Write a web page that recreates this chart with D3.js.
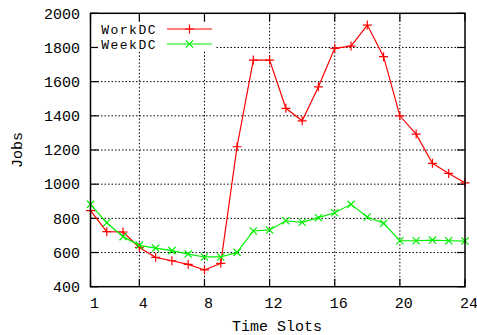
<!DOCTYPE html>
<html><head><meta charset="utf-8">
<script src="https://cdn.jsdelivr.net/npm/d3@7"></script>
<style>body{margin:0;background:#fff}svg{display:block}</style>
</head><body><svg id="c" width="477" height="335"></svg>
<script>
const slots = d3.range(1, 25);
const workDC = [845,722,720,630,572,552,531,498,537,1219,1726,1726,1444,1371,1570,1795,1808,1931,1746,1400,1293,1122,1063,1008];
const weekDC = [882,774,693,642,626,611,591,574,574,601,726,732,786,777,804,833,882,808,771,669,669,673,669,667];
const xTicks = [1,4,8,12,16,20,24];
const yTicks = [400,600,800,1000,1200,1400,1600,1800,2000];
const seriesNames = ["WorkDC","WeekDC"];
const colors = ["#ff0000","#00f000"];

const svg = d3.select("#c");
const L=90.5, R=465, T=13.3, B=286.7;
const x = d3.scaleLinear().domain([1,24]).range([L,R]);
const y = d3.scaleLinear().domain([400,2000]).range([B,T]);
const font = "'Liberation Mono', 'DejaVu Sans Mono', monospace";

// grid
const g = svg.append("g");
g.selectAll(".gx").data([4,8,12,16,20]).join("line")
  .attr("x1",d=>x(d)).attr("x2",d=>x(d)).attr("y1",T).attr("y2",B)
  .attr("stroke","#000").attr("stroke-width",1).attr("stroke-dasharray","1.5,2");
g.selectAll(".gy").data(yTicks.slice(1,-1)).join("line")
  .attr("x1",L).attr("x2",R).attr("y1",d=>y(d)).attr("y2",d=>y(d))
  .attr("stroke","#000").attr("stroke-width",1).attr("stroke-dasharray","1.5,2");

// ticks inward
const tl=8;
yTicks.forEach(v=>{
  g.append("line").attr("x1",L).attr("x2",L+tl).attr("y1",y(v)).attr("y2",y(v)).attr("stroke","#000").attr("stroke-width",1.2);
  g.append("line").attr("x1",R).attr("x2",R-tl).attr("y1",y(v)).attr("y2",y(v)).attr("stroke","#000").attr("stroke-width",1.2);
});
xTicks.forEach(v=>{
  g.append("line").attr("x1",x(v)).attr("x2",x(v)).attr("y1",B).attr("y2",B-tl).attr("stroke","#000").attr("stroke-width",1.2);
  g.append("line").attr("x1",x(v)).attr("x2",x(v)).attr("y1",T).attr("y2",T+tl).attr("stroke","#000").attr("stroke-width",1.2);
});

// tick labels
svg.selectAll(".yl").data(yTicks).join("text")
  .attr("x",80).attr("y",d=>y(d)).attr("dy","0.35em").attr("text-anchor","end")
  .style("font-family",font).style("font-size","15px").attr("fill","#000").text(d=>d);
svg.selectAll(".xl").data(xTicks).join("text")
  .attr("x",d=>x(d)+4).attr("y",308).attr("text-anchor","middle")
  .style("font-family",font).style("font-size","15px").attr("fill","#000").text(d=>d);

svg.append("text").attr("x",277).attr("y",331).attr("text-anchor","middle")
  .style("font-family",font).style("font-size","15px").text("Time Slots");
svg.append("text").attr("transform","translate(22,150) rotate(-90)").attr("text-anchor","middle")
  .style("font-family",font).style("font-size","15px").text("Jobs");

// series
const data = [workDC, weekDC];
const line = d3.line().x((d,i)=>x(slots[i])).y(d=>y(d));
const ms = 4.5;
function plus(sel,c){ sel.append("path").attr("d",`M${-ms},0H${ms}M0,${-ms}V${ms}`).attr("stroke",c).attr("stroke-width",1.2).attr("fill","none"); }
function cross(sel,c){ const m=ms*0.8; sel.append("path").attr("d",`M${-m},${-m}L${m},${m}M${-m},${m}L${m},${-m}`).attr("stroke",c).attr("stroke-width",1.2).attr("fill","none"); }
data.forEach((s,k)=>{
  svg.append("path").datum(s).attr("d",line).attr("fill","none").attr("stroke",colors[k]).attr("stroke-width",1.2);
  s.forEach((v,i)=>{
    const p = svg.append("g").attr("transform",`translate(${x(slots[i])},${y(v)})`);
    (k===0?plus:cross)(p,colors[k]);
  });
});

// legend
seriesNames.forEach((n,k)=>{
  const ly = 29 + k*15;
  svg.append("rect").attr("x",98).attr("y",ly-7).attr("width",118).attr("height",14).attr("fill","#fff");
  svg.append("text").attr("x",157).attr("y",ly).attr("dy","0.35em").attr("text-anchor","end")
    .style("font-family",font).style("font-size","13px").style("letter-spacing","1.5px").text(n);
  svg.append("line").attr("x1",167).attr("x2",212).attr("y1",ly).attr("y2",ly).attr("stroke",colors[k]).attr("stroke-width",1.2);
  const p = svg.append("g").attr("transform",`translate(189.5,${ly})`);
  (k===0?plus:cross)(p,colors[k]);
});

// border
svg.append("rect").attr("x",L).attr("y",T).attr("width",R-L).attr("height",B-T)
  .attr("fill","none").attr("stroke","#000").attr("stroke-width",1.5);
</script></body></html>
